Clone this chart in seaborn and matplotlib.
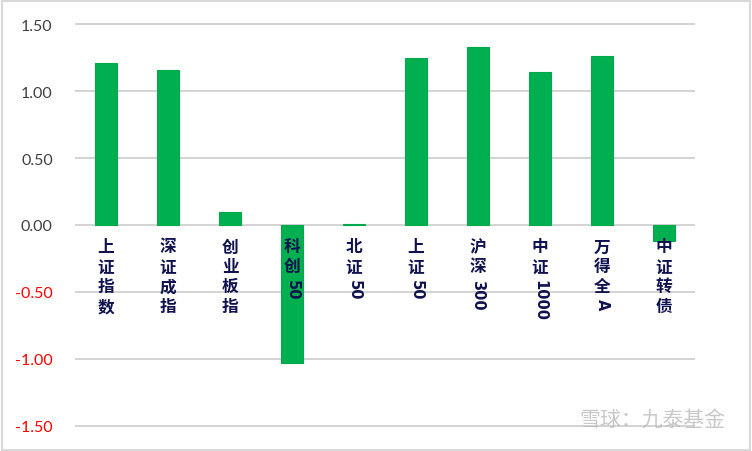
import matplotlib
matplotlib.use("Agg")
import matplotlib.pyplot as plt
import matplotlib.patches as mpatches
import pandas as pd
import seaborn as sns

# data
categories = ["上证指数", "深证成指", "创业板指", "科创50", "北证50",
              "上证50", "沪深300", "中证1000", "万得全A", "中证转债"]
values = [1.21, 1.155, 0.10, -1.03, 0.01, 1.25, 1.325, 1.14, 1.265, -0.12]
yticks = [-1.5, -1.0, -0.5, 0.0, 0.5, 1.0, 1.5]

df = pd.DataFrame({"name": categories, "chg": values})

sns.set_theme(style="white")
plt.rcParams["font.family"] = ["Noto Sans CJK SC", "DejaVu Sans"]

fig = plt.figure(figsize=(7.52, 4.52), dpi=100)
ax = fig.add_axes([75 / 752, 21 / 452, 620 / 752, 410 / 452])

sns.barplot(data=df, x="name", y="chg", color="#00B050", width=0.35,
            edgecolor="#00A84A", linewidth=0.8, saturation=1, ax=ax)

ax.set_ylim(-1.53, 1.53)
ax.set_xlim(-0.5, len(categories) - 0.5)
ax.set_yticks(yticks)
ax.set_yticklabels([f"{v:.2f}" for v in yticks], fontfamily="Lato", fontsize=11.5)
for lab, v in zip(ax.get_yticklabels(), yticks):
    lab.set_color("#FF0000" if v < 0 else "#404040")
ax.tick_params(axis="y", length=0, pad=16)
ax.set_xticks(range(len(categories)))
ax.set_xticklabels([])
ax.tick_params(axis="x", length=0)
ax.set_xlabel("")
ax.set_ylabel("")
ax.grid(axis="y", color="#D0D0D0", linewidth=1.3)
ax.set_axisbelow(True)
for s in ax.spines.values():
    s.set_visible(False)

# vertical category labels: CJK stacked upright, digits rotated
navy = "#10124F"
pitch = 14.3
for i, name in enumerate(categories):
    off = -9.0
    run = ""
    parts = []
    for ch in name:
        if ord(ch) < 128:
            run += ch
        else:
            if run:
                parts.append(run)
                run = ""
            parts.append(ch)
    if run:
        parts.append(run)
    for p in parts:
        if ord(p[0]) < 128:
            ax.annotate(p, xy=(i, 0), xytext=(0, off - 1), textcoords="offset points",
                        ha="center", va="top", rotation=-90, fontsize=10.5,
                        fontweight="bold", fontfamily="DejaVu Sans",
                        color=navy, annotation_clip=False)
            off -= 7.0 * len(p) + 1
        else:
            ax.annotate(p, xy=(i, 0), xytext=(0, off), textcoords="offset points",
                        ha="center", va="top", fontsize=12, fontweight="bold",
                        color=navy, annotation_clip=False)
            off -= pitch

# watermark
fig.text(0.965, 0.045, "雪球：九泰基金", ha="right", va="bottom", fontsize=15,
         color="#BBBBBB", alpha=0.8)

# light frame around the whole chart
fig.patches.append(mpatches.Rectangle((0.002, 0.003), 0.995, 0.993,
                                      transform=fig.transFigure, fill=False,
                                      edgecolor="#D9D9D9", linewidth=1.5))

fig.savefig("out.png", dpi=100)
